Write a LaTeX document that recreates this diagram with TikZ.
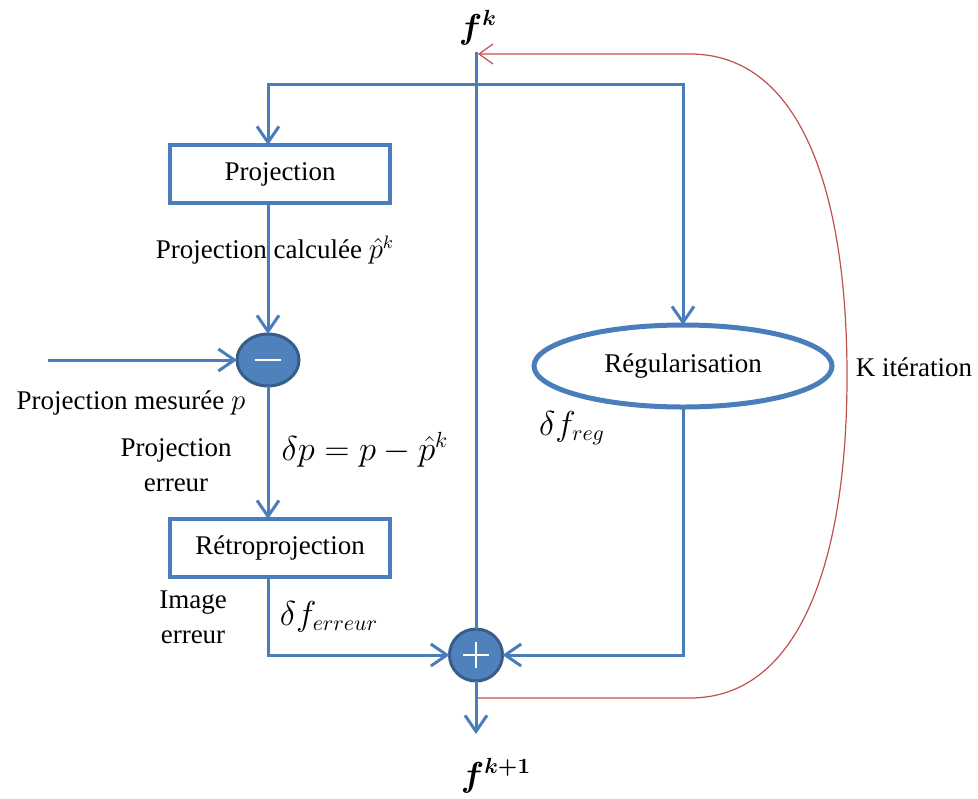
\documentclass[tikz,border=0pt]{standalone}
\usepackage{amsmath,amssymb}
\usepackage{fontspec}
\setmainfont{Liberation Serif}
\usepackage{tikz}
\usetikzlibrary{shapes.geometric,arrows.meta}
\definecolor{lineblue}{HTML}{4A7EBB}
\definecolor{fillblue}{HTML}{4F81BD}
\definecolor{edgeblue}{HTML}{385D8A}
\definecolor{loopred}{HTML}{C0504D}

\begin{document}
\begin{tikzpicture}[
  x=0.5pt, y=-0.5pt,
  >={Straight Barb[length=8pt,width=11pt]},
  every node/.style={font=\fontsize{13.5}{17.5}\selectfont, inner sep=0pt, outer sep=0pt},
  block/.style={draw=lineblue, line width=2pt, rectangle, minimum width=110pt, minimum height=29pt},
  sumnode/.style={draw=edgeblue, line width=1.5pt, fill=fillblue, ellipse},
  regnode/.style={draw=lineblue, line width=2.5pt, ellipse, minimum width=149pt, minimum height=41pt},
  mathlabel/.style={font=\fontsize{16}{19}\selectfont},
  arrow/.style={->, draw=lineblue, line width=1.5pt},
  flow/.style={draw=lineblue, line width=1.5pt},
  loop/.style={-{Straight Barb[length=7pt,width=10pt]}, draw=loopred, line width=0.6pt},
  sign/.style={white, line width=0.8pt}
]
\useasboundingbox (0,0) rectangle (978,798);

% BLOCKS
\node (proj)  [block]  at (280,174) {Projection};
\node (retro) [block]  at (280,548) {Rétroprojection};
\node (reg)   [regnode] at (683,366) {Régularisation};

% SUMMING POINTS
\node (minus) [sumnode, minimum width=31pt, minimum height=26pt] at (268,360) {};
\node (plus)  [sumnode, minimum width=26.5pt, minimum height=26pt] at (476,655) {};
\draw[sign] ([xshift=-6.5pt]minus.center) -- ([xshift=6.5pt]minus.center);
\draw[sign] ([xshift=-6.5pt]plus.center) -- ([xshift=6.5pt]plus.center);
\draw[sign] ([yshift=-6.5pt]plus.center) -- ([yshift=6.5pt]plus.center);

% IMAGE LABELS
\node (fk)  [mathlabel] at (478,28)  {$\boldsymbol{f^{k}}$};
\node (fk1) [mathlabel] at (496,776) {$\boldsymbol{f^{k+1}}$};

% TEXT LABELS
\node (calc)  at (275,250) {Projection calculée $\hat{p}^{k}$};
\node (mes)   at (131,403) {Projection mesurée $p$};
\node (perr)  [align=center] at (176,465) {Projection\\erreur};
\node (dp)    [mathlabel] at (365,450) {$\delta p = p - \hat{p}^{k}$};
\node (ierr)  [align=center] at (193,617) {Image\\erreur};
\node (dferr) [mathlabel] at (329,617) {$\delta f_{erreur}$};
\node (dfreg) [mathlabel] at (572,428) {$\delta f_{reg}$};
\node (kit)   at (914,367) {K itération};

% COORDINATES
\coordinate (fktop)  at (476,52);
\coordinate (split)  at (476,84);
\coordinate (projin) at (268,84);
\coordinate (meas)   at (48,360);
\coordinate (out)    at (476,734);
\coordinate (loopa)  at (478,698);
\coordinate (loopb)  at (478,54);

\draw[flow]  (fktop) -- (plus.north);
\draw[arrow] (split) -- (projin) -- (projin |- proj.north);
\draw[arrow] (split) -| (reg.north);
\draw[arrow] (projin |- proj.south) -- (minus.north);
\draw[arrow] (meas) -- (minus.west);
\draw[arrow] (minus.south) -- (minus |- retro.north);
\draw[arrow] (minus |- retro.south) |- (plus.west);
\draw[arrow] (reg.south) |- (plus.east);
\draw[arrow] (plus.south) -- (out);
\draw[loop]  (loopa) -- (690,698) .. controls (800,698) and (847,560) .. (847,376)
             .. controls (847,190) and (800,54) .. (690,54) -- (loopb);
\end{tikzpicture}
\end{document}
